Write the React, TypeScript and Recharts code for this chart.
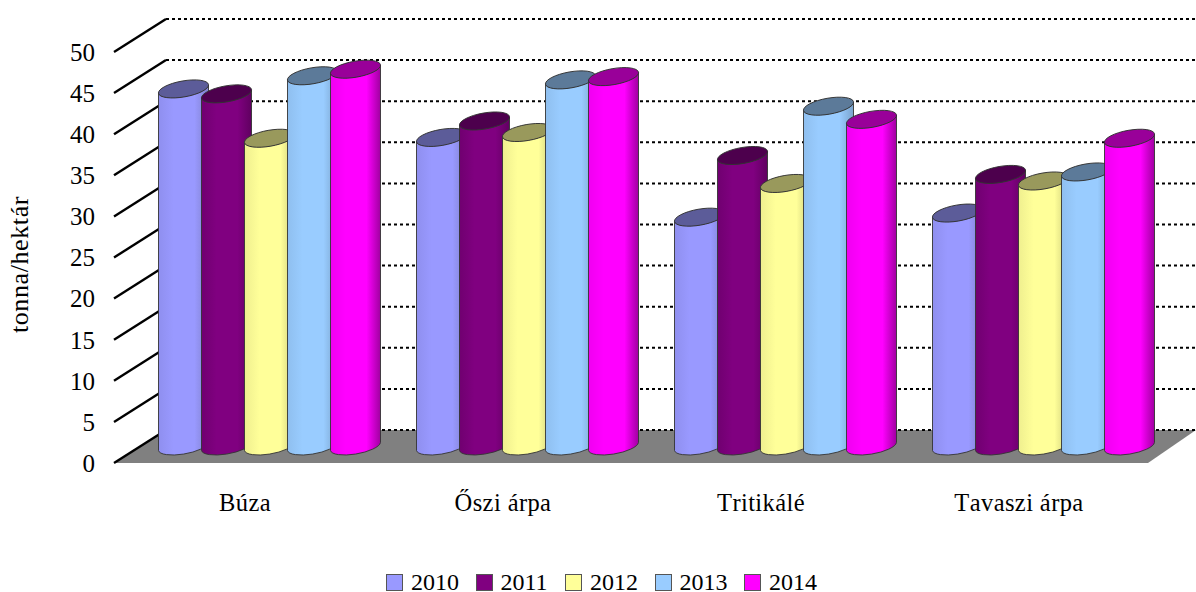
import React from "react";
import { BarChart, Bar, XAxis, YAxis, CartesianGrid, Legend } from "recharts";

const categories = ["Búza", "Őszi árpa", "Tritikálé", "Tavaszi árpa"];
const s2010 = [43.5, 37.6, 27.9, 28.4];
const s2011 = [42.9, 39.6, 35.4, 33.1];
const s2012 = [37.5, 38.2, 32.0, 32.3];
const s2013 = [45.1, 44.6, 41.4, 33.4];
const s2014 = [45.9, 45.0, 39.8, 37.5];
const yTicks = [0, 5, 10, 15, 20, 25, 30, 35, 40, 45, 50];
const years = ["2010", "2011", "2012", "2013", "2014"];
const colors = ["#9999FF", "#800080", "#FFFF99", "#99CCFF", "#FF00FF"];
const topColors = ["#5C5C99", "#4D004D", "#99995C", "#5C7A99", "#990099"];
const leftColors = ["#8F8FEF", "#700070", "#EFEF8F", "#8FBFEF", "#F000F0"];
const sideColors = ["#8080CC", "#600060", "#CCCC7A", "#7AA3CC", "#A000A0"];
const seriesValues = [s2010, s2011, s2012, s2013, s2014];

const data = categories.map((name, i) => {
  const row: Record<string, string | number> = { name };
  years.forEach((y, k) => { row[y] = seriesValues[k][i]; });
  return row;
});

const W = 1196, H = 592;
const ML = 114, MR = 50, MT = 52, FRONT_BOTTOM = 463;
const DX = 52, DY = 33;
const FONT = "'Liberation Serif', serif";

function GridLine(props: any) {
  const { x1, x2, y1 } = props;
  const isFloor = Math.abs(y1 - FRONT_BOTTOM) < 1;
  return (
    <g>
      {isFloor && (
        <polygon
          points={`${x1},${y1} ${x1 + DX},${y1 - DY} ${W},${y1 - DY} ${x2 + 2},${y1}`}
          fill="#808080"
        />
      )}
      <line x1={x1} y1={y1} x2={x1 + DX} y2={y1 - DY} stroke="#000" strokeWidth={2.4} />
      <line x1={x1 + DX} y1={y1 - DY} x2={W} y2={y1 - DY} stroke="#000" strokeWidth={2} strokeDasharray="3 3" />
    </g>
  );
}

function Cylinder(props: any) {
  const { x, y, width, height, k } = props;
  const cx = x + width / 2 + DX / 2;
  const top = y - DY / 2;
  const base = y + height - DY / 2;
  const r = 25, tilt = 4, ax = 25.4, ay = 8;
  return (
    <g>
      <path
        d={`M${cx - r},${top + tilt} L${cx - r},${base + tilt} A${ax} ${ay} -10 0 0 ${cx + r},${base - tilt} L${cx + r},${top - tilt} A${ax} ${ay} -10 0 1 ${cx - r},${top + tilt} Z`}
        fill={`url(#cyl${k})`}
        stroke="#333"
        strokeWidth={0.9}
      />
      <ellipse
        cx={cx}
        cy={top}
        rx={ax}
        ry={ay}
        transform={`rotate(-10 ${cx} ${top})`}
        fill={topColors[k]}
        stroke="#333"
        strokeWidth={0.9}
      />
    </g>
  );
}

function LegendBox() {
  return (
    <div style={{ display: "flex", boxSizing: "border-box", paddingLeft: 386, width: W, height: 25, fontFamily: FONT, fontSize: 24, lineHeight: "25px", color: "#000", whiteSpace: "nowrap" }}>
      {years.map((y, k) => (
        <div key={y} style={{ flex: "0 0 89.5px", display: "flex", alignItems: "center", height: 25 }}>
          <span style={{ display: "inline-block", boxSizing: "border-box", width: 17, height: 17, background: colors[k], border: "1px solid #555", marginRight: 8 }} />
          <span>{y}</span>
        </div>
      ))}
    </div>
  );
}

export default function App() {
  return (
    <div style={{ position: "absolute", left: 0, top: 0, width: W, height: H, background: "#fff" }}>
      <BarChart
        width={W}
        height={H}
        data={data}
        margin={{ top: MT, right: MR, left: 0, bottom: H - FRONT_BOTTOM - 60 }}
        barSize={43}
        barGap={0}
        barCategoryGap={21.5}
        style={{ overflow: "visible" }}
      >
        <defs>
          {colors.map((c, k) => (
            <linearGradient key={c} id={`cyl${k}`} x1="0" y1="0" x2="1" y2="0">
              <stop offset="0" stopColor={leftColors[k]} />
              <stop offset="0.3" stopColor={c} />
              <stop offset="0.72" stopColor={c} />
              <stop offset="1" stopColor={sideColors[k]} />
            </linearGradient>
          ))}
        </defs>
        <CartesianGrid vertical={false} horizontal={(p: any) => <GridLine key={p.key} {...p} />} />
        <XAxis
          dataKey="name"
          height={60}
          axisLine={false}
          tickLine={false}
          interval={0}
          tickMargin={25}
          tick={{ fontFamily: FONT, fontSize: 24.5, fill: "#000", dx: 2, style: { fontKerning: "none", letterSpacing: 0.4 } }}
        />
        <YAxis
          width={ML}
          domain={[0, 50]}
          ticks={yTicks}
          interval={0}
          axisLine={false}
          tickLine={false}
          tickMargin={13}
          tick={{ fontFamily: FONT, fontSize: 25, fill: "#000", style: { fontKerning: "none" } }}
          label={{ value: "tonna/hektár", angle: -90, position: "insideLeft", dx: 14, dy: 7, style: { fontFamily: FONT, fontSize: 26, letterSpacing: 0.6, fill: "#000", textAnchor: "middle", fontKerning: "none" } }}
        />
        {years.map((y, k) => (
          <Bar key={y} dataKey={y} fill={colors[k]} isAnimationActive={false} shape={(p: any) => <Cylinder {...p} k={k} />} />
        ))}
        <Legend verticalAlign="middle" content={() => <LegendBox />} wrapperStyle={{ top: 570, left: 0, width: W, height: 25 }} />
      </BarChart>
    </div>
  );
}
